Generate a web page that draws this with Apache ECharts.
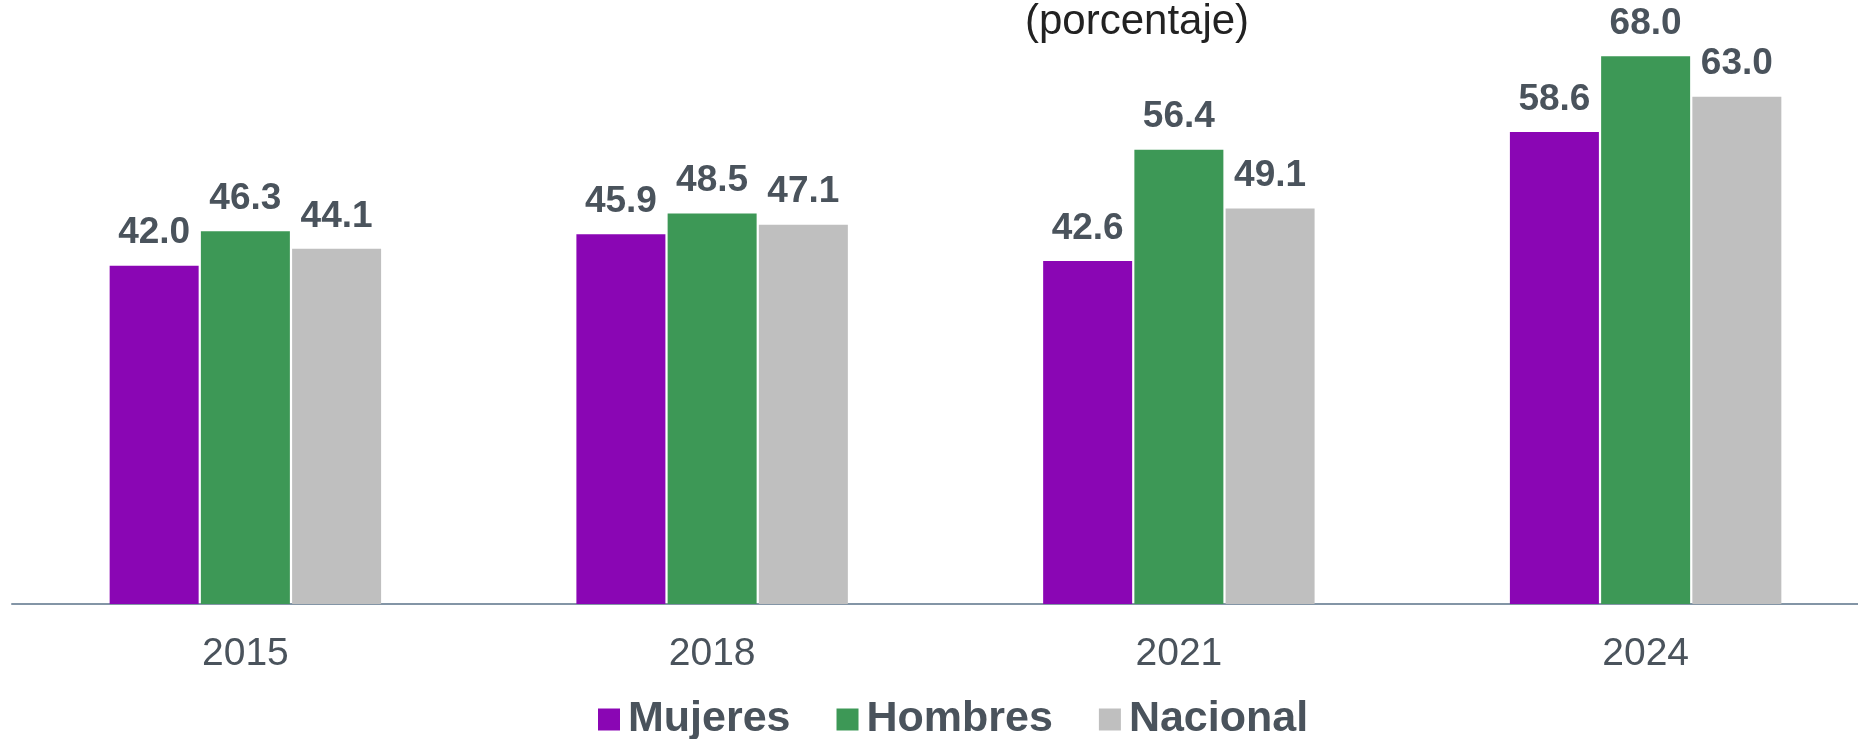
<!DOCTYPE html>
<html>
<head>
<meta charset="utf-8">
<script src="https://cdn.jsdelivr.net/npm/echarts@6/dist/echarts.min.js"></script>
<style>
  html, body { margin: 0; padding: 0; background: #fff; }
  #chart { width: 1858px; height: 739px; }
</style>
</head>
<body>
<div id="chart"></div>
<script>
// años de la encuesta
var years = ['2015', '2018', '2021', '2024'];
// porcentaje por grupo
var mujeres = [42.0, 45.9, 42.6, 58.6];
var hombres = [46.3, 48.5, 56.4, 68.0];
var nacional = [44.1, 47.1, 49.1, 63.0];

var fontName = '"Liberation Sans", Arial, sans-serif';
var textColor = '#4a535c';

function serie(name, data, color) {
    return {
        name: name,
        type: 'bar',
        data: data,
        barWidth: 89,
        barGap: '2.5%',
        itemStyle: { color: color },
        label: {
            show: true,
            position: 'top',
            distance: 14,
            formatter: function (p) { return p.value.toFixed(1); },
            color: textColor,
            fontSize: 37,
            fontWeight: 'bold',
            fontFamily: fontName
        }
    };
}

var myChart = echarts.init(document.getElementById('chart'));
var option = {
    backgroundColor: '#fff',
    animation: false,
    title: {
        text: '(porcentaje)',
        left: 1025,
        top: 1,
        padding: 0,
        textStyle: {
            color: '#222',
            fontSize: 42,
            fontWeight: 'normal',
            fontFamily: fontName
        }
    },
    legend: {
        data: ['Mujeres', 'Hombres', 'Nacional'],
        left: 598,
        top: 698,
        padding: 0,
        itemWidth: 22,
        itemHeight: 22,
        itemGap: 46,
        icon: 'rect',
        textStyle: {
            color: textColor,
            fontSize: 43,
            fontWeight: 'bold',
            fontFamily: fontName,
            padding: [0, 0, 0, 3]
        }
    },
    grid: {
        left: 12,
        width: 1867,
        top: 0,
        bottom: 135,
        outerBoundsMode: 'none',
        containLabel: false
    },
    xAxis: {
        type: 'category',
        data: years,
        axisTick: { show: false },
        axisLine: { lineStyle: { color: '#8395a6', width: 2 } },
        axisLabel: {
            color: textColor,
            fontSize: 39,
            margin: 31,
            fontFamily: fontName
        }
    },
    yAxis: {
        type: 'value',
        min: 0,
        max: 75,
        show: false,
        splitLine: { show: false }
    },
    series: [
        serie('Mujeres', mujeres, '#8a06b4'),
        serie('Hombres', hombres, '#3d9856'),
        serie('Nacional', nacional, '#bfbfbf')
    ]
};
myChart.setOption(option);
</script>
</body>
</html>
